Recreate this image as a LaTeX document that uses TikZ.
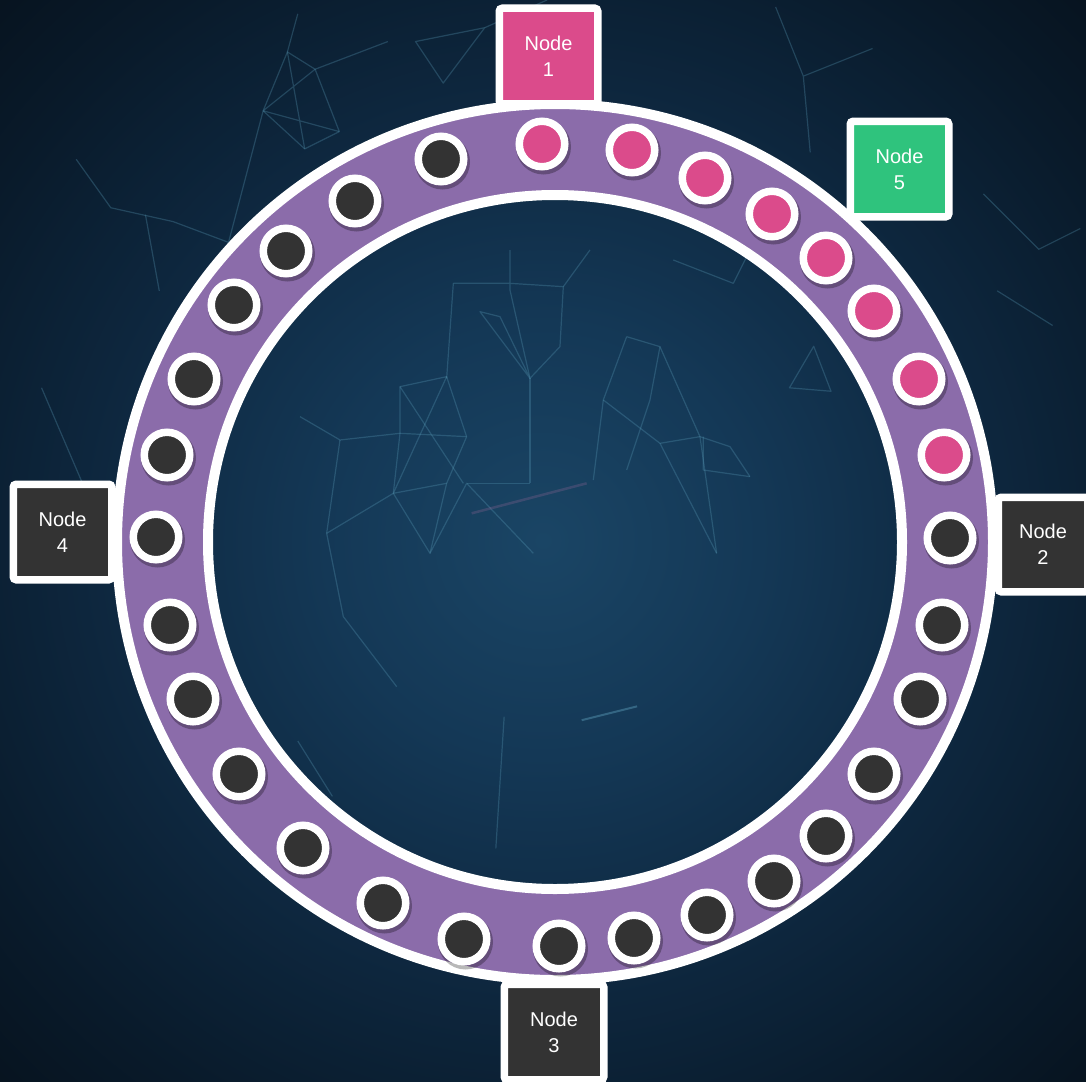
\documentclass[tikz,border=0pt]{standalone}
\usepackage{fontspec}
\setmainfont{Liberation Sans}
\definecolor{pinkc}{HTML}{DB4B8B}
\definecolor{greenc}{HTML}{2FC37D}
\definecolor{darkc}{HTML}{333333}
\definecolor{ringc}{HTML}{8B6CAA}
\definecolor{netc}{HTML}{5A9CB8}
\definecolor{bgin}{HTML}{1A4565}
\definecolor{bgmid}{HTML}{143856}
\definecolor{bgedge}{HTML}{0E2840}
\definecolor{bgdark}{HTML}{091A2A}
\definecolor{bgout}{HTML}{050E17}
\pgfdeclareradialshading{bgshade}{\pgfpoint{0bp}{0bp}}{color(0bp)=(bgin); color(10bp)=(bgmid); color(20bp)=(bgedge); color(30bp)=(bgdark); color(40bp)=(bgout); color(50bp)=(bgout)}
\begin{document}
\begin{tikzpicture}[x=1pt,y=-1pt,
  netline/.style={draw=netc, line width=1.2pt, opacity=0.3, line join=round},
  slot/.style={circle, draw=white, line width=7.5pt, minimum size=45.5pt, inner sep=0pt},
  nbox/.style={rectangle, draw=white, line width=7.5pt, rounded corners=3pt, text=white, align=center, inner sep=0pt, minimum width=98.5pt, minimum height=95.5pt, font=\fontsize{20}{26}\selectfont},
  shadowc/.style={fill=black, opacity=0.28}]
\clip (0,0) rectangle (1086,1081);
\shade[shading=bgshade] (0,0) rectangle (1086,1081);

% faint network texture (inner area)
\begin{scope}[shift={(300,250)}, scale=0.3333]
  \draw[netline] (460,100)--(630,100)--(790,110)--(780,290)--(690,385)--(630,120)--(630,0);
  \draw[netline] (460,100)--(440,385);
  \draw[netline] (540,185)--(600,200)--(690,385)--cycle;
  \draw[netline] (790,110)--(870,0);
  \draw[netline] (690,385)--(690,700);
  \draw[netline] (300,410)--(440,380)--(500,560)--(440,700)--(280,730)--(300,550)--cycle;
  \draw[netline] (300,410)--(490,700);
  \draw[netline] (300,550)--(500,560);
  \draw[netline] (440,380)--(280,730);
  \draw[netline] (0,500)--(120,570)--(300,550);
  \draw[netline] (120,570)--(80,850)--(130,1100)--(290,1310);
  \draw[netline] (80,850)--(280,730)--(390,910)--(440,700);
  \draw[netline] (390,910)--(500,700)--(700,910);
  \draw[netline] (500,700)--(690,700);
  \draw[netline] (980,260)--(1080,290)--(1200,560)--(1250,910);
  \draw[netline] (980,260)--(910,450)--(880,690);
  \draw[netline] (910,450)--(1080,580)--(1200,560)--(1290,590)--(1350,680);
  \draw[netline] (1210,560)--(1210,660)--(1350,680);
  \draw[netline] (1080,580)--(1250,910);
  \draw[netline] (1080,290)--(1050,450)--(980,660);
  \draw[netline, draw=pinkc!60!netc, line width=2.5pt, opacity=0.25] (515,790)--(860,700);
  \draw[netline] (1120,30)--(1300,100)--(1350,0);
\end{scope}

% faint network texture (whole picture)
\begin{scope}[scale=0.6925]
  \draw[netline] (380,160)--(415,75)--(455,100)--(490,190)--(440,215)--cycle;
  \draw[netline] (380,160)--(490,190) (415,75)--(440,215) (455,100)--(380,160);
  \draw[netline] (415,75)--(430,20) (455,100)--(560,60);
  \draw[netline] (110,230)--(160,300)--(250,320)--(330,350)--(380,160);
  \draw[netline] (210,310)--(230,420);
  \draw[netline] (600,60)--(700,40)--(640,120)--cycle;
  \draw[netline] (700,40)--(790,0);
  \draw[netline] (1120,10)--(1160,110)--(1170,220) (1160,110)--(1260,70);
  \draw[netline] (1420,280)--(1500,360)--(1560,330);
  \draw[netline] (1440,420)--(1520,470);
  \draw[netline] (1140,560)--(1175,500)--(1200,565)--cycle;
  \draw[netline, line width=2pt, opacity=0.45] (840,1040)--(920,1020);
  \draw[netline] (728,1035)--(716,1225);
  \draw[netline] (430,1070)--(480,1150);
  \draw[netline] (60,560)--(120,700)--(200,760);
  \draw[netline] (1280,1000)--(1350,1080);
\end{scope}

% ring
\fill[ringc, even odd rule] (555,542) circle (438) (555,542) circle (347);
\draw[white, line width=10pt] (555,542) circle (438);
\draw[white, line width=10pt] (555,542) circle (347);

% slots on the ring
\foreach \px/\py/\pc [count=\i] in {
  542/144/pinkc, 632/150/pinkc, 705/178/pinkc, 772/214/pinkc, 826/258/pinkc, 874/311/pinkc, 919/379/pinkc, 944/455/pinkc,
  950/538/darkc, 942/625/darkc, 920/699/darkc, 874/774/darkc, 826/836/darkc, 774/881/darkc, 707/915/darkc, 634/938/darkc,
  559/946/darkc, 464/939/darkc, 383/903/darkc, 303/848/darkc, 239/774/darkc, 193/699/darkc, 170/625/darkc, 156/537/darkc,
  167/455/darkc, 194/379/darkc, 234/305/darkc, 286/251/darkc, 355/201/darkc, 441/159/darkc}
{
  \fill[shadowc] (\px+1.5,\py+3) circle (27.5);
  \node[slot, fill=\pc] (s\i) at (\px,\py) {};
}

% node boxes
\node[nbox, fill=pinkc] (n1) at (548.5,56) {Node\\1};
\node[nbox, fill=greenc] (n5) at (899.5,169) {Node\\5};
\node[nbox, fill=darkc, minimum width=89.5pt, minimum height=94.5pt] (n2) at (1043,544.5) {Node\\2};
\node[nbox, fill=darkc, minimum width=99.5pt] (n3) at (554,1032) {Node\\3};
\node[nbox, fill=darkc] (n4) at (62.5,532) {Node\\4};
\end{tikzpicture}
\end{document}
